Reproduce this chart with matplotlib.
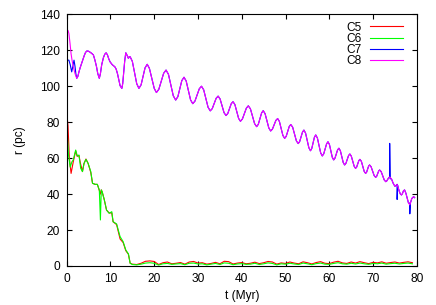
import numpy as np
import matplotlib
matplotlib.use("Agg")
import matplotlib.pyplot as plt

plt.rcParams['font.family'] = ['Liberation Sans', 'DejaVu Sans']

# ---- data ----
c8_t = [0.0, 0.3, 0.5, 0.75, 1.0, 1.25, 1.5, 1.9, 2.3, 2.55, 2.8, 3.1, 3.4, 3.7, 4.0, 4.3,
        4.6, 4.95, 5.3, 5.7, 6.1, 6.45, 6.8, 7.1, 7.45, 7.7, 8.0, 8.4, 8.7, 9.0, 9.3, 9.6,
        9.9, 10.4, 11.0, 11.3, 11.6, 11.9, 12.2, 12.6, 12.8, 13.0, 13.25, 13.5, 13.8, 14.1,
        14.3, 14.5,
        15.0, 15.5, 16.0, 16.5, 17.0, 17.45, 17.9, 18.4, 18.9, 19.45, 20.0, 20.5, 21.05, 21.6,
        22.15, 22.7, 23.25, 23.8, 24.35, 24.9, 25.4, 25.85, 26.3, 26.8, 27.3, 27.8, 28.3, 28.8,
        29.3, 29.8, 30.3, 30.8, 31.3, 31.8, 32.3, 32.8, 33.25, 33.7, 34.15, 34.6, 35.05, 35.5,
        35.95, 36.4, 36.8, 37.2, 37.6, 38.0, 38.43, 38.85, 39.28, 39.7, 40.15, 40.6, 41.05,
        41.5, 41.98, 42.45, 42.93, 43.4, 43.78, 44.15, 44.53, 44.9, 45.33, 45.75, 46.18, 46.6,
        47.0, 47.4, 47.8, 48.2, 48.6, 49.0, 49.4, 49.8, 50.15, 50.5, 50.85, 51.2, 51.63, 52.05,
        52.48, 52.9, 53.23, 53.55, 53.88, 54.2, 54.58, 54.95, 55.33, 55.7, 56.0, 56.3, 56.6,
        56.9, 57.28, 57.65, 58.03, 58.4, 58.73, 59.05, 59.38, 59.7, 60.03, 60.35, 60.68, 61.0,
        61.3, 61.6, 61.9, 62.2, 62.53, 62.85, 63.18, 63.5, 63.8, 64.1, 64.4, 64.7, 65.03,
        65.35, 65.68, 66.0, 66.25, 66.5, 66.75, 67.0, 67.33, 67.65, 67.98, 68.3, 68.53, 68.75,
        68.98, 69.2, 69.55, 69.9, 70.25, 70.6, 70.83, 71.05, 71.28, 71.5, 71.85, 72.2, 72.55,
        72.9, 73.13, 73.35, 73.58, 73.8, 74.2, 74.6, 75.0, 75.25, 75.5, 75.75, 76.0, 76.25,
        76.5, 76.7, 76.95, 77.2, 77.5, 77.8, 78.1, 78.4, 78.6, 78.85, 79.1, 79.3, 79.5]
c8_r = [131.6, 131.0, 129.4, 124.0, 118.0, 114.0, 111.0, 107.0, 104.4, 105.5, 108.0, 110.5,
        112.7, 115.0, 117.0, 118.8, 119.6, 119.5, 119.0, 118.3, 117.4, 114.5, 111.0, 107.0,
        104.4, 107.0, 112.0, 116.0, 117.8, 118.6, 117.5, 115.3, 113.6, 112.0, 110.8, 109.5,
        107.0, 103.5, 100.3, 98.8, 101.5, 107.0, 114.0, 118.6, 117.2, 115.5, 116.4, 116.4,
        113.8, 107.6, 101.4, 98.8, 100.8, 105.5, 110.2, 112.2, 109.9, 104.4, 98.8, 96.5, 98.3,
        102.8, 107.2, 109.0, 106.6, 100.7, 94.7, 92.3, 94.2, 98.7, 103.1, 105.0, 102.9, 97.7,
        92.4, 90.3, 91.7, 95.2, 98.6, 100.0, 98.0, 93.2, 88.3, 86.3, 87.5, 90.4, 93.3, 94.5,
        92.9, 89.1, 85.3, 83.7, 84.8, 87.6, 90.3, 91.4, 89.8, 86.0, 82.1, 80.5, 81.8, 84.8,
        87.8, 89.1, 87.4, 83.3, 79.2, 77.5, 78.8, 82.0, 85.1, 86.4, 84.7, 80.8, 76.8, 75.1,
        76.1, 78.6, 81.0, 82.0, 80.4, 76.5, 72.6, 71.0, 72.1, 74.9, 77.6, 78.7, 77.2, 73.4,
        69.6, 68.1, 69.2, 71.9, 74.5, 75.6, 73.9, 69.9, 65.8, 64.1, 65.4, 68.5, 71.6, 72.9,
        71.2, 67.1, 62.9, 61.2, 62.4, 65.2, 67.9, 69.1, 67.6, 64.1, 60.5, 59.0, 60.0, 62.3,
        64.6, 65.5, 64.1, 60.9, 57.6, 56.2, 57.1, 59.3, 61.4, 62.3, 61.1, 58.3, 55.5, 54.3,
        55.0, 56.8, 58.6, 59.3, 58.2, 55.4, 52.6, 51.5, 52.2, 53.9, 55.5, 56.2, 55.2, 52.8,
        50.3, 49.3, 49.9, 51.4, 52.8, 53.4, 52.5, 50.2, 47.9, 46.9, 47.3, 48.2, 49.1, 49.5,
        48.5, 46.0, 44.3, 44.8, 45.4, 43.5, 41.5, 40.0, 39.5, 40.2, 41.8, 42.3, 40.5, 37.8,
        35.0, 34.0, 35.5, 37.5, 38.2, 38.5, 38.0]

c7_early_t = [0.0, 0.5, 0.8, 1.14, 1.4, 1.67, 1.9, 2.1]
c7_early_r = [114.5, 114.5, 112.0, 108.0, 111.0, 114.5, 111.0, 106.8]
c7_spike_t = [73.7, 73.8, 73.9, 75.4, 75.5, 75.6, 78.3, 78.4, 78.5]
c7_spike_r = [49.3, 68.2, 48.5, 45.0, 37.0, 45.0, 35.0, 29.0, 35.0]

c5_t = [0.0, 0.3, 0.6, 1.0, 1.5, 2.05, 2.4, 2.8, 3.1, 3.6, 3.95, 4.4, 4.9, 5.5, 5.9, 6.5,
        7.0, 7.45, 7.7, 7.9, 8.1, 8.6, 9.1, 9.7, 10.3, 10.6, 11.4, 12.2, 12.9, 13.5, 14.1,
        14.5] + list(range(15, 80))
c5_r = [85.3, 78.0, 60.0, 51.5, 58.0, 64.0, 61.0, 61.5, 57.5, 52.5, 57.0, 59.5, 57.0, 52.0,
        46.0, 45.4, 45.4, 42.0, 40.0, 42.3, 41.3, 36.7, 31.1, 29.5, 29.5, 24.6, 23.0, 15.0,
        13.0, 8.5, 6.5, 1.5,
        1.0, 0.8, 1.5, 2.6, 2.8, 2.5, 0.8, 1.8, 2.2, 1.2, 1.5, 1.9, 1.0, 2.2, 2.5, 1.6, 1.8,
        1.0, 1.4, 2.0, 1.2, 2.6, 2.4, 1.1, 1.6, 1.9, 1.2, 1.5, 2.1, 1.3, 1.8, 2.5, 2.2, 1.0,
        1.7, 1.4, 2.2, 1.6, 1.2, 2.3, 1.8, 1.1, 1.9, 2.4, 1.5, 1.3, 2.1, 2.6, 1.7, 1.4, 2.2,
        1.6, 2.4, 1.8, 1.3, 2.0, 1.7, 2.3, 1.5, 1.9, 2.2, 1.6, 2.0, 2.3, 1.8]

c6_t = [0.0, 0.4, 0.8, 1.2, 1.5, 2.05, 2.4, 2.8, 3.2, 3.6, 3.95, 4.4, 4.9, 5.5, 5.9, 6.5,
        7.0, 7.45, 7.7, 7.9, 8.1, 8.6, 9.1, 9.7, 10.3, 10.6, 11.4, 12.2, 12.9, 13.5, 14.1,
        14.5] + list(range(15, 80))
c6_r = [79.4, 62.0, 55.0, 58.0, 59.0, 64.5, 61.2, 61.7, 54.3, 52.5, 57.0, 59.3, 57.0, 52.5,
        46.0, 45.4, 45.4, 42.3, 25.6, 42.3, 41.3, 36.7, 31.1, 29.3, 30.2, 24.6, 23.4, 16.3,
        13.5, 8.9, 6.7, 1.5,
        0.8, 0.6, 1.0, 1.6, 1.8, 1.5, 0.5, 1.2, 1.4, 0.9, 1.1, 1.3, 0.7, 1.5, 1.6, 1.1, 1.2,
        0.6, 1.0, 1.4, 0.8, 1.7, 1.5, 0.7, 1.1, 1.3, 0.9, 1.0, 1.5, 0.8, 1.2, 1.7, 1.4, 0.6,
        1.2, 1.0, 1.5, 1.1, 0.8, 1.6, 1.2, 0.7, 1.3, 1.6, 1.0, 0.9, 1.4, 1.8, 1.2, 1.0, 1.5,
        1.1, 1.6, 1.2, 0.9, 1.4, 1.2, 1.6, 1.0, 1.3, 1.5, 1.1, 1.4, 1.6, 1.2]

x_ticks = [0, 10, 20, 30, 40, 50, 60, 70, 80]
y_ticks = [0, 20, 40, 60, 80, 100, 120, 140]

# C7 follows C8 once the early part is over, apart from a few spikes
c7_t = c7_early_t + [t for t in c8_t if t > 2.2]
c7_r = c7_early_r + [r for t, r in zip(c8_t, c8_r) if t > 2.2]
order = np.argsort(np.array(c7_t + c7_spike_t), kind="stable")
c7_t = list(np.array(c7_t + c7_spike_t)[order])
c7_r = list(np.array(c7_r + c7_spike_r)[order])

# ---- figure ----
fs = 8.6
fig = plt.figure(figsize=(4.36, 3.05), dpi=100)
ax = fig.add_axes([0.153, 0.128, 0.803, 0.825])

lw = 0.8
ax.plot(c5_t, c5_r, color='#ff0000', lw=lw, label='C5')
ax.plot(c6_t, c6_r, color='#00ff00', lw=lw, label='C6')
ax.plot(c7_t, c7_r, color='#0000ff', lw=lw, label='C7')
ax.plot(c8_t, c8_r, color='#ff00ff', lw=lw, label='C8')

ax.set_xlim(0, 80)
ax.set_ylim(0, 140)
ax.set_xticks(x_ticks)
ax.set_yticks(y_ticks)
ax.tick_params(direction='in', top=True, right=True, length=3.5, width=0.8,
               labelsize=fs, colors='black')
ax.tick_params(axis='x', pad=5)
ax.tick_params(axis='y', pad=5)
for s in ax.spines.values():
    s.set_linewidth(0.8)

ax.set_xlabel('t (Myr)', fontsize=fs, labelpad=4)
ax.set_ylabel('r (pc)', fontsize=fs, labelpad=10)

leg = ax.legend(loc='upper right', frameon=False, markerfirst=False, fontsize=fs,
                handlelength=2.74, handletextpad=0.65, labelspacing=-0.06,
                borderaxespad=0.0, bbox_to_anchor=(0.973, 0.99))

fig.savefig('out.png', dpi=100)
